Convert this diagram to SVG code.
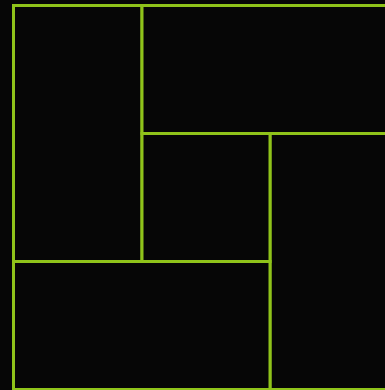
<svg xmlns="http://www.w3.org/2000/svg" width="385" height="390" viewBox="0 0 385 390">
<style>
.r{fill:#060606;stroke:#8fc31a;stroke-width:3}
</style>
<rect x="0" y="0" width="385" height="390" fill="#060606"/>
<g id="left-tall"><rect class="r" x="13.5" y="5.5" width="128.5" height="256"/></g>
<g id="top-wide"><rect class="r" x="142" y="5.5" width="256" height="128"/></g>
<g id="right-tall"><rect class="r" x="270" y="133.5" width="128" height="256"/></g>
<g id="bottom-wide"><rect class="r" x="13.5" y="261.5" width="256.5" height="128"/></g>
<g id="center"><rect class="r" x="142" y="133.5" width="128" height="128"/></g>
<g id="connectors"></g>
</svg>
